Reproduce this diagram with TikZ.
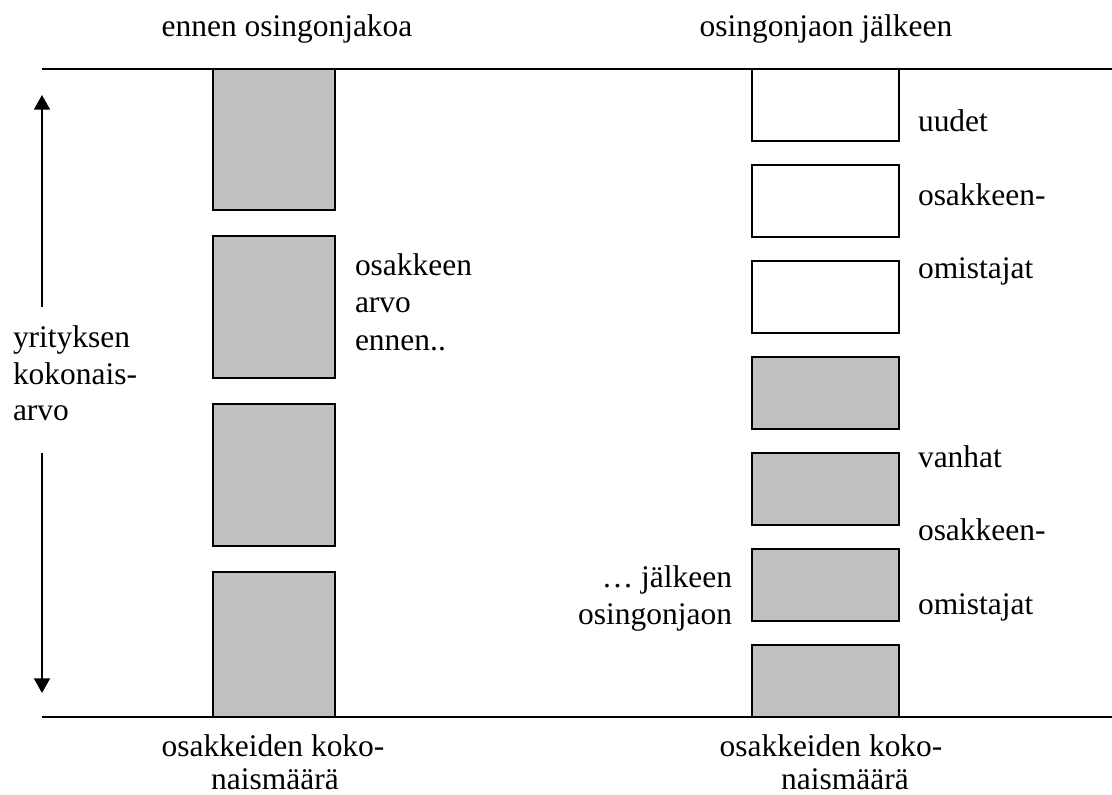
\documentclass[tikz,border=0pt]{standalone}
\usepackage{fontspec}
\setmainfont{Liberation Serif}
\usetikzlibrary{arrows.meta}
\begin{document}
\begin{tikzpicture}[x=0.75pt,y=-0.75pt,
  txt/.style={inner sep=0pt,outer sep=0pt,font=\fontsize{23.6pt}{28pt}\selectfont},
  gbox/.style={draw=black,line width=1.5pt,fill=boxgray,inner sep=0pt,outer sep=0pt},
  wbox/.style={draw=black,line width=1.5pt,fill=white,inner sep=0pt,outer sep=0pt},
  axisline/.style={draw=black,line width=1.5pt},
  arr/.style={draw=black,line width=1.3pt,-{Triangle[width=12pt,length=11pt]}}]
\definecolor{boxgray}{HTML}{C0C0C0}
\useasboundingbox (0,0) rectangle (1112,794);
% axis lines
\coordinate (tl) at (42,69);
\coordinate (tr) at (1112,69);
\coordinate (bl) at (42,717);
\coordinate (br) at (1112,717);
% left boxes
\node[gbox,minimum width=122*0.75pt,minimum height=141*0.75pt] (L1) at (274,139.5) {};
\node[gbox,minimum width=122*0.75pt,minimum height=142*0.75pt] (L2) at (274,307) {};
\node[gbox,minimum width=122*0.75pt,minimum height=142*0.75pt] (L3) at (274,475) {};
\node[gbox,minimum width=122*0.75pt,minimum height=145*0.75pt] (L4) at (274,644.5) {};
% right boxes
\node[wbox,minimum width=147*0.75pt,minimum height=72*0.75pt] (R1) at (825.5,105) {};
\node[wbox,minimum width=147*0.75pt,minimum height=72*0.75pt] (R2) at (825.5,201) {};
\node[wbox,minimum width=147*0.75pt,minimum height=72*0.75pt] (R3) at (825.5,297) {};
\node[gbox,minimum width=147*0.75pt,minimum height=72*0.75pt] (R4) at (825.5,393) {};
\node[gbox,minimum width=147*0.75pt,minimum height=72*0.75pt] (R5) at (825.5,489) {};
\node[gbox,minimum width=147*0.75pt,minimum height=72*0.75pt] (R6) at (825.5,585) {};
\node[gbox,minimum width=147*0.75pt,minimum height=72*0.75pt] (R7) at (825.5,681) {};
\draw[axisline] (tl) -- (tr);
\draw[axisline] (bl) -- (br);
% arrows
\coordinate (atop) at (42,95);
\coordinate (abot) at (42,693);
\coordinate (am1) at (42,307);
\coordinate (am2) at (42,453);
\draw[arr] (am1) -- (atop);
\draw[arr] (am2) -- (abot);
% titles
\node[txt,anchor=base] (t1) at (287,36) {ennen osingonjakoa};
\node[txt,anchor=base] (t2) at (826,36) {osingonjaon jälkeen};
% left labels
\node[txt,anchor=base west] (y1) at (13,347) {yrityksen};
\node[txt,anchor=base west] (y2) at (13,384) {kokonais-};
\node[txt,anchor=base west] (y3) at (13,420) {arvo};
\node[txt,anchor=base west] (o1) at (355,275) {osakkeen};
\node[txt,anchor=base west] (o2) at (355,312) {arvo};
\node[txt,anchor=base west] (o3) at (355,350) {ennen..};
% right labels
\node[txt,anchor=base west] (u1) at (918,131) {uudet};
\node[txt,anchor=base west] (u2) at (918,205) {osakkeen-};
\node[txt,anchor=base west] (u3) at (918,278) {omistajat};
\node[txt,anchor=base west] (v1) at (918,467) {vanhat};
\node[txt,anchor=base west] (v2) at (918,540) {osakkeen-};
\node[txt,anchor=base west] (v3) at (918,614) {omistajat};
\node[txt,anchor=base east] (j1) at (732,587) {\dots\ jälkeen};
\node[txt,anchor=base east] (j2) at (732,624) {osingonjaon};
% bottom labels
\node[txt,anchor=base] (b1) at (273,756) {osakkeiden koko-};
\node[txt,anchor=base] (b2) at (275,789) {naismäärä};
\node[txt,anchor=base] (b3) at (831,756) {osakkeiden koko-};
\node[txt,anchor=base] (b4) at (845,789) {naismäärä};
\end{tikzpicture}
\end{document}
